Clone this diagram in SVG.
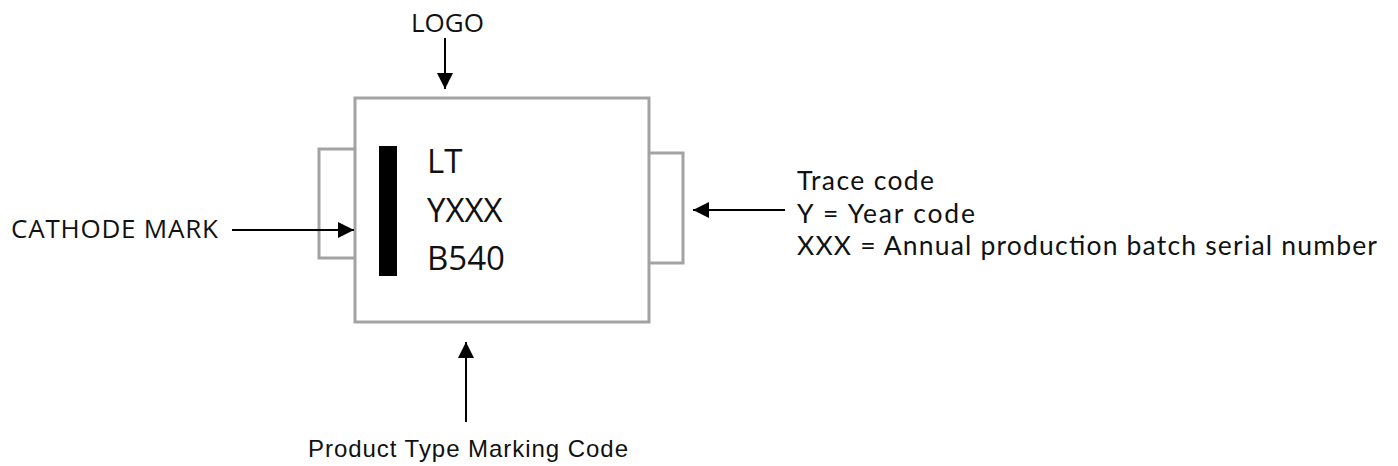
<svg xmlns="http://www.w3.org/2000/svg" width="1398" height="466" viewBox="0 0 1398 466">
<style>
.lbl{font-family:"Open Sans","DejaVu Sans",sans-serif;font-size:26px;fill:#111}
.trc{font-family:Lato,"Open Sans",sans-serif;font-size:26.5px;fill:#111}
.mark{font-family:"Open Sans","DejaVu Sans",sans-serif;font-size:33px;fill:#111}
.arial{font-family:"Liberation Sans",Arial,sans-serif;font-size:24px;fill:#111}
.outl{fill:#fff;stroke:#a3a3a3;stroke-width:3}
.conn{stroke:#000;stroke-width:2;fill:none}
</style>
<defs>
<marker id="ahL" viewBox="0 0 10 10" refX="10" refY="5" markerWidth="8" markerHeight="8" orient="auto">
<path d="M0,0 L10,5 L0,10 Z" fill="#000"/>
</marker>
</defs>
<rect width="1398" height="466" fill="#fff"/>
<g id="package">
<rect class="outl" x="319" y="149" width="40" height="109"/>
<rect class="outl" x="645" y="153" width="38" height="110"/>
<rect class="outl" x="355" y="98" width="294" height="224"/>
<rect x="379" y="146" width="18" height="130" fill="#000"/>
<text class="mark" x="427" y="173">LT</text>
<text class="mark" x="427" y="222">YXXX</text>
<text class="mark" x="427" y="270">B540</text>
</g>
<g id="logo-label"><text class="lbl" x="411" y="32">LOGO</text></g>
<g id="cathode-label"><text class="lbl" x="11" y="238" textLength="207">CATHODE MARK</text></g>
<g id="trace-label">
<text class="trc" x="797" y="190" textLength="137">Trace code</text>
<text class="trc" x="797" y="223" textLength="178">Y = Year code</text>
<text class="trc" x="797" y="255" textLength="580">XXX = Annual production batch serial number</text>
</g>
<g id="product-label"><text class="arial" x="308" y="457" textLength="320">Product Type Marking Code</text></g>
<g id="connectors">
<line class="conn" x1="445" y1="38" x2="445" y2="89" marker-end="url(#ahL)"/>
<line class="conn" x1="232" y1="230" x2="354" y2="230" marker-end="url(#ahL)"/>
<line class="conn" x1="785" y1="210" x2="693" y2="210" marker-end="url(#ahL)"/>
<line class="conn" x1="466" y1="422" x2="466" y2="342" marker-end="url(#ahL)"/>
</g>
</svg>
